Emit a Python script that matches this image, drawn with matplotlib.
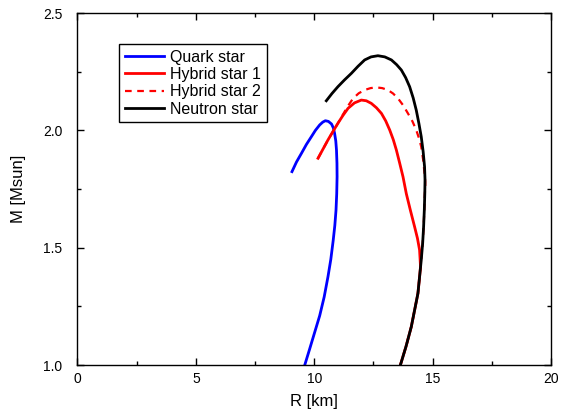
import matplotlib
matplotlib.use("Agg")
import matplotlib.pyplot as plt
from matplotlib.ticker import MultipleLocator

plt.rcParams["font.family"] = ["Liberation Sans", "DejaVu Sans"]

# Quark star
quark_R = [9.06, 9.25, 9.46, 9.67, 9.88, 10.05, 10.23, 10.36, 10.47, 10.6, 10.73, 10.81,
           10.86, 10.91, 10.94, 10.96, 10.965, 10.95, 10.92, 10.87, 10.8, 10.7, 10.58,
           10.42, 10.23, 10.0, 9.8, 9.6]
quark_M = [1.824, 1.865, 1.902, 1.94, 1.973, 2.0, 2.023, 2.035, 2.041, 2.038, 2.027, 2.01,
           1.987, 1.955, 1.916, 1.86, 1.802, 1.73, 1.66, 1.595, 1.53, 1.45, 1.376,
           1.29, 1.21, 1.133, 1.066, 1.0]

# Neutron star
neut_R = [10.51, 10.75, 11.0, 11.28, 11.57, 11.85, 12.13, 12.4, 12.69, 12.98, 13.26,
          13.48, 13.68, 13.86, 14.03, 14.18, 14.31, 14.42, 14.52, 14.6, 14.66, 14.68,
          14.67, 14.65, 14.62, 14.58, 14.52, 14.45, 14.38, 14.25, 14.1, 13.88, 13.64]
neut_M = [2.126, 2.157, 2.186, 2.215, 2.243, 2.273, 2.30, 2.313, 2.318, 2.313, 2.30,
          2.28, 2.257, 2.225, 2.186, 2.138, 2.086, 2.03, 1.973, 1.91, 1.845, 1.79,
          1.73, 1.66, 1.589, 1.519, 1.447, 1.376, 1.305, 1.239, 1.163, 1.08, 1.0]

# Hybrid star 1
hyb1_R = [10.16, 10.37, 10.58, 10.79, 11.0, 11.21, 11.43, 11.7, 11.99, 12.2, 12.41,
          12.63, 12.84, 13.02, 13.19, 13.34, 13.47, 13.61, 13.75, 13.89, 14.06, 14.24,
          14.36, 14.45, 14.49, 14.45, 14.38, 14.25, 14.1, 13.88, 13.64]
hyb1_M = [1.881, 1.92, 1.959, 1.995, 2.03, 2.063, 2.094, 2.117, 2.129, 2.126, 2.115,
          2.096, 2.072, 2.04, 2.001, 1.96, 1.916, 1.86, 1.802, 1.73, 1.66, 1.589,
          1.54, 1.49, 1.419, 1.376, 1.305, 1.239, 1.163, 1.08, 1.0]

# Hybrid star 2
hyb2_R = [10.16, 10.58, 11.0, 11.2, 11.4, 11.64, 11.88, 12.13, 12.38, 12.62, 12.87,
          13.11, 13.33, 13.54, 13.76, 13.96, 14.15, 14.31, 14.43, 14.52, 14.6, 14.66,
          14.69, 14.69, 14.67, 14.65, 14.62, 14.58, 14.52, 14.45, 14.38, 14.25, 14.1,
          13.88, 13.64]
hyb2_M = [1.881, 1.959, 2.03, 2.065, 2.1, 2.136, 2.158, 2.172, 2.18, 2.183, 2.18,
          2.172, 2.157, 2.136, 2.106, 2.072, 2.038, 2.001, 1.965, 1.93, 1.875, 1.817,
          1.78, 1.75, 1.73, 1.66, 1.589, 1.519, 1.447, 1.376, 1.305, 1.239, 1.163,
          1.08, 1.0]

fig = plt.figure(figsize=(5.64, 4.13), dpi=100)
ax = fig.add_axes([0.1374, 0.1162, 0.8395, 0.8523])

ax.plot(quark_R, quark_M, color="#0000ff", lw=2.0, label="Quark star")
ax.plot(hyb1_R, hyb1_M, color="#ff0000", lw=2.0, label="Hybrid star 1")
ax.plot(hyb2_R, hyb2_M, color="#ff0000", lw=1.6, ls=(0, (3, 2.5)), label="Hybrid star 2")
ax.plot(neut_R, neut_M, color="black", lw=2.0, label="Neutron star")

ax.set_xlim(0, 20)
ax.set_ylim(1.0, 2.5)
ax.xaxis.set_major_locator(MultipleLocator(5))
ax.xaxis.set_minor_locator(MultipleLocator(2.5))
ax.yaxis.set_major_locator(MultipleLocator(0.5))
ax.yaxis.set_minor_locator(MultipleLocator(0.25))
ax.xaxis.set_major_formatter(plt.FuncFormatter(lambda v, p: f"{v:.0f}"))
ax.yaxis.set_major_formatter(plt.FuncFormatter(lambda v, p: f"{v:.1f}"))

ax.tick_params(which="both", direction="in", top=True, right=True, width=1.0)
ax.tick_params(which="major", length=5)
ax.tick_params(which="minor", length=2.7)
ax.tick_params(axis="x", which="major", labelsize=10, pad=5)
ax.tick_params(axis="y", which="major", labelsize=10, pad=11)
for s in ax.spines.values():
    s.set_linewidth(1.0)

ax.set_xlabel("R [km]", fontsize=12, labelpad=6)
ax.set_ylabel("M [Msun]", fontsize=12, labelpad=12)

leg = ax.legend(loc="upper left", bbox_to_anchor=(0.0876, 0.912), borderaxespad=0,
                fontsize=11.5, frameon=True, fancybox=False, framealpha=1,
                edgecolor="black", handlelength=2.5, handletextpad=0.35,
                labelspacing=0.15, borderpad=0.35)
leg.get_frame().set_linewidth(1.0)

fig.savefig("out.png", dpi=100, facecolor="white")
